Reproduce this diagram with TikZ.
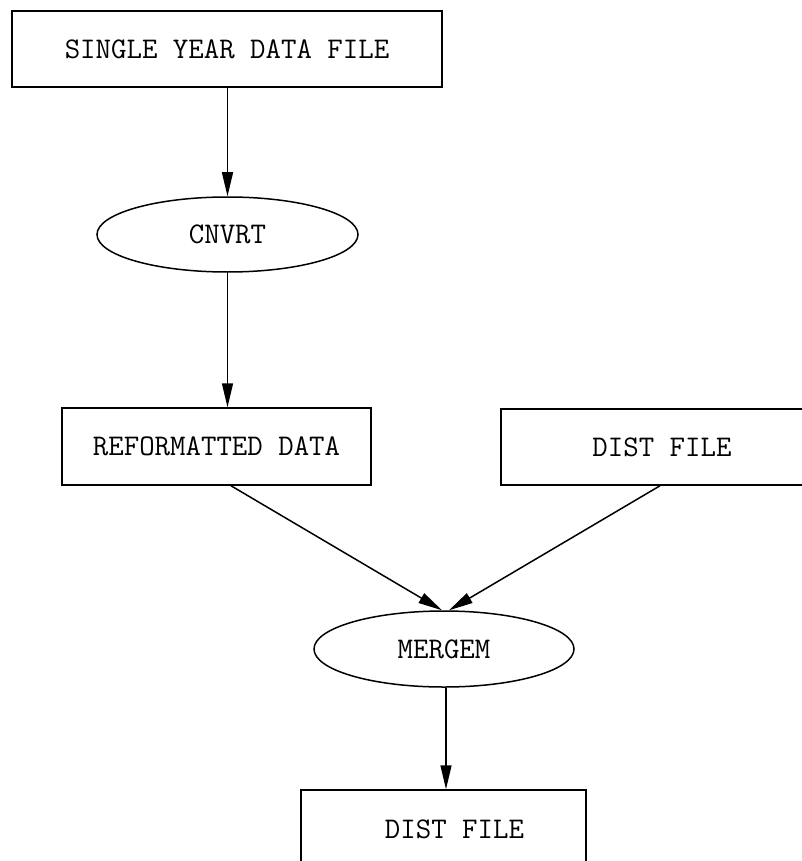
\documentclass[tikz,border=0pt]{standalone}
\usetikzlibrary{arrows.meta,shapes.geometric}
\begin{document}
\begin{tikzpicture}[x=1pt,y=-1pt,
  every node/.style={font=\ttfamily\fontsize{30}{34}\selectfont, inner sep=0pt},
  filebox/.style={draw, line width=1.5pt, rectangle},
  procnode/.style={draw, line width=1.5pt, ellipse},
  flow/.style={line width=1.5pt, -{Triangle[length=24pt,width=11pt]}}]
\useasboundingbox (0,0) rectangle (801,861);

% data files (rectangles) and programs (ellipses)
\node[filebox, minimum width=430pt, minimum height=76pt] (single) at (227,49) {SINGLE YEAR DATA FILE};
\node[procnode, minimum width=261pt, minimum height=75pt] (cnvrt) at (227.5,234.5) {CNVRT};
\node[filebox, minimum width=309pt, minimum height=77pt] (refmt) at (216.5,446.5) {REFORMATTED DATA};
\node[filebox, minimum width=322pt, minimum height=76pt] (distin) at (662,447) {DIST FILE};
\node[procnode, minimum width=260pt, minimum height=76pt] (mergem) at (444,649) {MERGEM};
\node[filebox, minimum width=285pt, minimum height=78pt] (distout) at (443.5,829) {\hspace*{22pt}DIST FILE};

% data flow
\draw[flow] (single.south -| cnvrt.north) -- (cnvrt.north);
\draw[flow] (cnvrt.south) -- (cnvrt.south |- refmt.north);
\draw[flow] ([xshift=14.5pt]refmt.south) -- ([xshift=-2pt]mergem.north);
\draw[flow] ([xshift=-2pt]distin.south) -- ([xshift=5pt]mergem.north);
\draw[flow] ([xshift=2pt]mergem.south) -- ([xshift=2pt]mergem.south |- distout.north);
\end{tikzpicture}
\end{document}
